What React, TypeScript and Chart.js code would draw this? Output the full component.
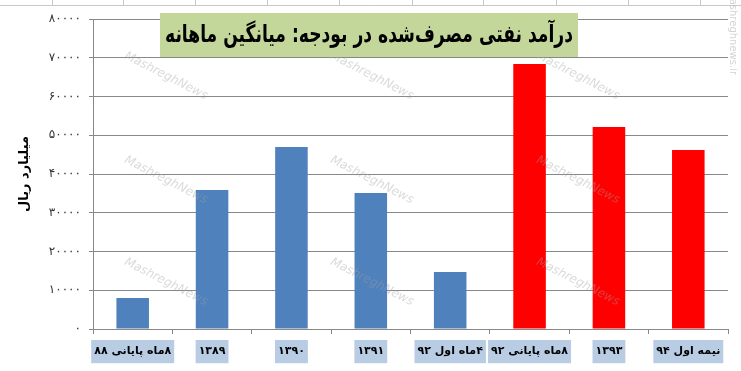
import React, { useEffect, useRef } from "react";
import { Chart, registerables } from "chart.js";

Chart.register(...registerables);

const categories = [
  "۸ماه پایانی ۸۸",
  "۱۳۸۹",
  "۱۳۹۰",
  "۱۳۹۱",
  "۴ماه اول ۹۲",
  "۸ماه پایانی ۹۲",
  "۱۳۹۳",
  "نیمه اول ۹۴",
];
const values = [8000, 35900, 47000, 35100, 14700, 68400, 52100, 46200];
const barColors = ["#4f81bd", "#4f81bd", "#4f81bd", "#4f81bd", "#4f81bd", "#ff0000", "#ff0000", "#ff0000"];
const yTickLabels = ["۰", "۱۰۰۰۰", "۲۰۰۰۰", "۳۰۰۰۰", "۴۰۰۰۰", "۵۰۰۰۰", "۶۰۰۰۰", "۷۰۰۰۰", "۸۰۰۰۰"];
const yAxisTitle = "میلیارد ریال";
const chartTitle = "درآمد نفتی مصرف‌شده در بودجه: میانگین ماهانه";
const watermark = "MashreghNews";

const decorPlugin = {
  id: "decor",
  beforeDraw(chart: any) {
    const ctx = chart.ctx;
    ctx.save();
    ctx.fillStyle = "#ffffff";
    ctx.fillRect(0, 0, chart.width, chart.height);
    ctx.strokeStyle = "#c8c8c8";
    ctx.lineWidth = 1;
    ctx.beginPath();
    ctx.moveTo(0, 5.5);
    ctx.lineTo(chart.width, 5.5);
    [52, 123, 195, 267, 339, 412, 483, 556, 628, 700].forEach((x) => {
      ctx.moveTo(x + 0.5, 0);
      ctx.lineTo(x + 0.5, 5);
    });
    ctx.stroke();
    ctx.restore();
  },
  afterDraw(chart: any) {
    const ctx = chart.ctx;
    ctx.save();
    // watermarks
    ctx.fillStyle = "rgba(160,160,160,0.4)";
    ctx.font = "italic 12px 'DejaVu Sans'";
    ctx.textAlign = "center";
    ctx.textBaseline = "middle";
    ctx.direction = "ltr";
    [166, 372, 578].forEach((x) => {
      [76, 180, 282].forEach((y) => {
        ctx.save();
        ctx.translate(x, y);
        ctx.rotate((27 * Math.PI) / 180);
        ctx.fillText(watermark, 0, 0);
        ctx.restore();
      });
    });
    // vertical site text
    ctx.save();
    ctx.translate(733, 32);
    ctx.rotate(Math.PI / 2);
    ctx.font = "10px 'DejaVu Sans'";
    ctx.fillStyle = "rgba(170,170,170,0.5)";
    ctx.fillText("mashreghnews.ir", 0, 0);
    ctx.restore();
    // title box
    const bx = 160, by = 13, bw = 418, bh = 44;
    ctx.fillStyle = "#c4d79b";
    ctx.fillRect(bx, by, bw, bh);
    ctx.fillStyle = "#000000";
    ctx.direction = "rtl";
    ctx.font = "bold 24px 'DejaVu Sans'";
    const w = ctx.measureText(chartTitle).width;
    const sx = Math.min(1, 408 / w);
    ctx.textAlign = "center";
    ctx.textBaseline = "middle";
    ctx.translate(bx + bw / 2, by + bh / 2 + 1);
    ctx.scale(sx, 1);
    ctx.fillText(chartTitle, 0, 0);
    ctx.restore();
  },
};

export default function App() {
  const ref = useRef<HTMLCanvasElement | null>(null);
  useEffect(() => {
    document.body.style.margin = "0";
    const canvas = ref.current!;
    const chart = new Chart(canvas, {
      type: "bar",
      data: {
        labels: categories,
        datasets: [
          {
            data: values,
            backgroundColor: barColors,
            borderWidth: 0,
            categoryPercentage: 1,
            barPercentage: 0.41,
          },
        ],
      },
      plugins: [decorPlugin],
      options: {
        animation: false,
        responsive: false,
        devicePixelRatio: 1,
        layout: { padding: { left: 0, right: 13, top: 19, bottom: 0 } },
        plugins: {
          legend: { display: false },
          tooltip: { enabled: false },
          title: { display: false },
        },
        scales: {
          x: {
            offset: true,
            afterFit(scale: any) {
              scale.height = 42;
            },
            grid: {
              offset: true,
              drawOnChartArea: false,
              drawTicks: true,
              tickLength: 5,
              color: "#888888",
            },
            border: { color: "#888888" },
            ticks: {
              padding: 11,
              color: "#000000",
              font: { family: "'DejaVu Sans'", size: 11, weight: "bold" },
              showLabelBackdrop: true,
              backdropColor: "#b8cce4",
              backdropPadding: { top: 5, bottom: 5, left: 3, right: 3 },
              maxRotation: 0,
              autoSkip: false,
            },
          },
          y: {
            min: 0,
            max: 80000,
            afterFit(scale: any) {
              scale.width = 93;
            },
            grid: {
              color: "#888888",
              tickLength: 4,
              drawTicks: true,
            },
            border: { color: "#888888" },
            ticks: {
              stepSize: 10000,
              padding: 8,
              color: "#333333",
              font: { family: "'DejaVu Sans'", size: 12 },
              callback: (_v: any, i: number) => yTickLabels[i],
            },
            title: {
              display: true,
              text: yAxisTitle,
              color: "#000000",
              font: { family: "'DejaVu Sans'", size: 13, weight: "bold" },
              padding: { top: 17, bottom: 0 },
            },
          },
        },
      } as any,
    });
    return () => chart.destroy();
  }, []);
  return (
    <div style={{ position: "fixed", left: 0, top: 0, width: 741, height: 371 }}>
      <canvas ref={ref} width={741} height={371} dir="rtl" style={{ display: "block", direction: "rtl" }} />
    </div>
  );
}
